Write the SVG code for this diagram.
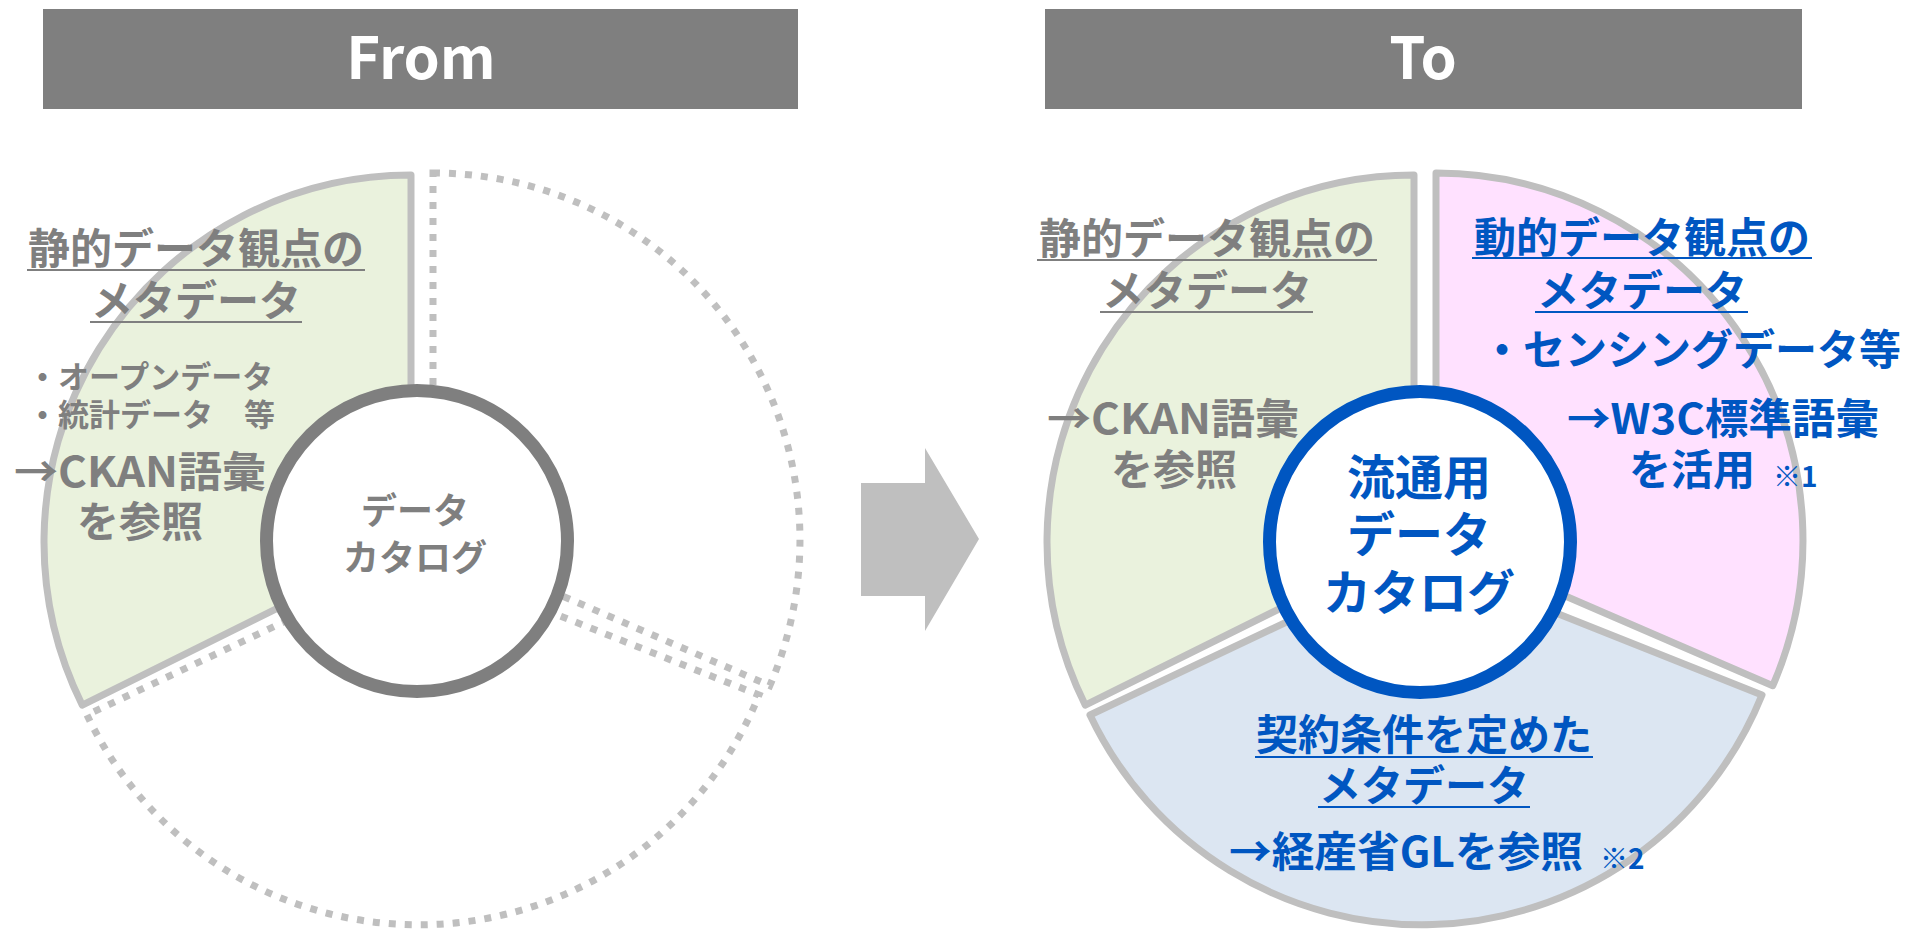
<svg xmlns="http://www.w3.org/2000/svg" width="1908" height="931" viewBox="0 0 1908 931">
<style>
  .hdr { fill: #7F7F7F; }
  .hdrtxt { fill: #FFFFFF; font-family: "Noto Sans CJK JP", "Liberation Sans", sans-serif; font-weight: 700; font-size: 58px; text-anchor: middle; }
  .sec { stroke: #BFBFBF; stroke-width: 7; stroke-linejoin: round; }
  .green { fill: #EAF2DD; }
  .pink { fill: #FFE1FF; }
  .blue { fill: #DCE6F2; }
  .dot { fill: none; stroke: #BFBFBF; stroke-width: 7; stroke-dasharray: 7 9; }
  .jp { font-family: "Noto Sans CJK JP", "Noto Sans", sans-serif; font-weight: 700; }
  .g { fill: #7F7F7F; }
  .b { fill: #0056C1; }
  .t42 { font-size: 42px; }
  .t31 { font-size: 31px; }
  .t36 { font-size: 36px; }
  .t48 { font-size: 48px; }
  .t28 { font-size: 28px; }
  .mid { text-anchor: middle; }
  .ulg { stroke: #7F7F7F; stroke-width: 2; }
  .ulb { stroke: #0056C1; stroke-width: 2; }
</style>

<!-- Headers -->
<g id="header-from">
  <rect class="hdr" x="43" y="9" width="755" height="100"/>
  <text class="hdrtxt" x="421" y="79">From</text>
</g>
<g id="header-to">
  <rect class="hdr" x="1045" y="9" width="757" height="100"/>
  <text class="hdrtxt" x="1423" y="79">To</text>
</g>

<!-- FROM side -->
<g id="from-static">
  <path class="sec green" d="M 411 542 L 411 175 A 367 367 0 0 0 82.3 705.2 Z"/>
  <text class="jp g t42 mid"><tspan x="196" y="264">静的データ観点の</tspan><tspan x="196" y="316">メタデータ</tspan></text>
  <line class="ulg" x1="27" y1="270" x2="365" y2="270"/>
  <line class="ulg" x1="90" y1="322" x2="302" y2="322"/>
  <text class="jp g t31"><tspan x="27" y="388">・オープンデータ</tspan><tspan x="27" y="426">・統計データ　等</tspan></text>
  <text class="jp g t42 mid"><tspan x="140" y="487" textLength="252" lengthAdjust="spacingAndGlyphs">→CKAN語彙</tspan><tspan x="140" y="537">を参照</tspan></text>
</g>
<g id="from-dynamic">
  <path class="dot" d="M 433 173 A 367 367 0 0 1 769.8 685.7 L 433 540 Z"/>
</g>
<g id="from-contract">
  <path class="dot" d="M 87 715 A 367 367 0 0 0 759 695 L 417 559 Z"/>
</g>
<g id="from-catalog">
  <circle cx="417" cy="541" r="150.5" fill="#FFFFFF" stroke="#7F7F7F" stroke-width="13"/>
  <text class="jp g t36 mid"><tspan x="415" y="524">データ</tspan><tspan x="415" y="571">カタログ</tspan></text>
</g>

<!-- Arrow -->
<g id="connectors">
  <polygon points="861,483 925,483 925,448 979,539 925,631 925,596 861,596" fill="#BFBFBF"/>
</g>

<!-- TO side -->
<g id="to-static">
  <path class="sec green" d="M 1414 542 L 1414 175 A 367 367 0 0 0 1085.3 705.2 Z"/>
  <text class="jp g t42 mid"><tspan x="1207" y="254">静的データ観点の</tspan><tspan x="1207" y="306">メタデータ</tspan></text>
  <line class="ulg" x1="1037" y1="260" x2="1377" y2="260"/>
  <line class="ulg" x1="1100" y1="312" x2="1313" y2="312"/>
  <text class="jp g t42 mid"><tspan x="1173" y="434" textLength="252" lengthAdjust="spacingAndGlyphs">→CKAN語彙</tspan><tspan x="1174" y="485">を参照</tspan></text>
</g>
<g id="to-dynamic">
  <path class="sec pink" d="M 1436 540 L 1436 173 A 367 367 0 0 1 1772.8 685.7 Z"/>
  <text class="jp b t42 mid"><tspan x="1642" y="253">動的データ観点の</tspan><tspan x="1642" y="306">メタデータ</tspan></text>
  <line class="ulb" x1="1472" y1="258" x2="1812" y2="258"/>
  <line class="ulb" x1="1535" y1="312" x2="1748" y2="312"/>
  <text class="jp b t42" x="1481" y="365">・センシングデータ等</text>
  <text class="jp b t42 mid"><tspan x="1723" y="434" textLength="312" lengthAdjust="spacingAndGlyphs">→W3C標準語彙</tspan><tspan x="1692" y="485">を活用</tspan></text>
  <text class="jp b t28" x="1773" y="487">※1</text>
</g>
<g id="to-contract">
  <path class="sec blue" d="M 1420 559 L 1090 715 A 367 367 0 0 0 1762 695 Z"/>
  <text class="jp b t42 mid"><tspan x="1424" y="750">契約条件を定めた</tspan><tspan x="1424" y="801">メタデータ</tspan></text>
  <line class="ulb" x1="1255" y1="757" x2="1593" y2="757"/>
  <line class="ulb" x1="1318" y1="807" x2="1530" y2="807"/>
  <text class="jp b t42 mid" x="1406" y="867" textLength="354" lengthAdjust="spacingAndGlyphs">→経産省GLを参照</text>
  <text class="jp b t28" x="1600" y="869">※2</text>
</g>
<g id="to-catalog">
  <circle cx="1420" cy="542" r="150.5" fill="#FFFFFF" stroke="#0056C1" stroke-width="13"/>
  <text class="jp b t48 mid"><tspan x="1419" y="495">流通用</tspan><tspan x="1419" y="552">データ</tspan><tspan x="1419" y="610">カタログ</tspan></text>
</g>
</svg>
